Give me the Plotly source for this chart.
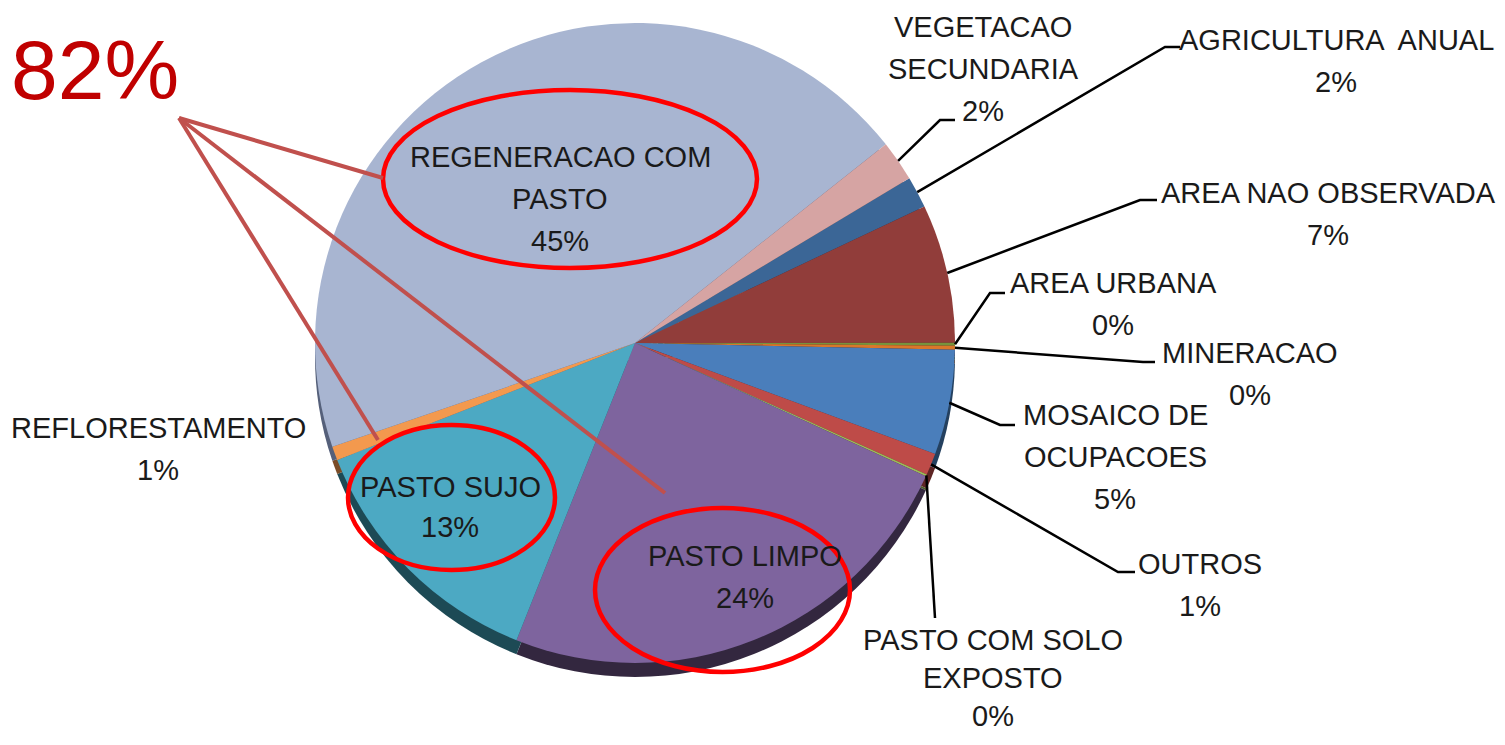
import math
import plotly.graph_objects as go

W, H = 1505, 745
OFF = 8  # default page body margin
FW, FH = W - 2 * OFF, H - 2 * OFF

# ---- data ----
categories = ["AGRICULTURA ANUAL", "AREA NAO OBSERVADA", "AREA URBANA", "MINERACAO",
              "MOSAICO DE OCUPACOES", "OUTROS", "PASTO COM SOLO EXPOSTO", "PASTO LIMPO",
              "PASTO SUJO", "REFLORESTAMENTO", "REGENERACAO COM PASTO", "VEGETACAO SECUNDARIA"]
values = [1.6, 7.0, 0.15, 0.2, 5.3, 1.1, 0.1, 24.2, 13.0, 0.7, 44.6, 2.05]
label_lines = {
    "AGRICULTURA ANUAL": ["AGRICULTURA  ANUAL"],
    "AREA NAO OBSERVADA": ["AREA NAO OBSERVADA"],
    "AREA URBANA": ["AREA URBANA"],
    "MINERACAO": ["MINERACAO"],
    "MOSAICO DE OCUPACOES": ["MOSAICO DE", "OCUPACOES"],
    "OUTROS": ["OUTROS"],
    "PASTO COM SOLO EXPOSTO": ["PASTO COM SOLO", "EXPOSTO"],
    "PASTO LIMPO": ["PASTO LIMPO"],
    "PASTO SUJO": ["PASTO SUJO"],
    "REFLORESTAMENTO": ["REFLORESTAMENTO"],
    "REGENERACAO COM PASTO": ["REGENERACAO COM", "PASTO"],
    "VEGETACAO SECUNDARIA": ["VEGETACAO", "SECUNDARIA"],
}
highlight_total = "82%"

colors = ["#3B6696", "#913D3A", "#77933C", "#D9772A", "#4A7EBB", "#BE4B48", "#9BBB59",
          "#7E649E", "#4CA9C3", "#F3994E", "#A8B5D1", "#D6A4A3"]
side_colors = ["#1E3450", "#4A1F1D", "#3C4A1E", "#6B3A14", "#24405F", "#5E2524", "#4E5E2C",
               "#33273F", "#1D4A55", "#7A4C27", "#55607A", "#6B5251"]


def fx(x):
    return (x - OFF) / FW


def fy(y):
    return 1 - (y - OFF) / FH


# ---- layout constants ----
CX, CY, R = 635, 343, 320
ROT = 59
DEPTH = 14
FONT = "Liberation Sans, Arial, sans-serif"
FS = 29

fig = go.Figure()
# 3D side (shadow) of the pie
fig.add_trace(go.Pie(labels=categories, values=values, sort=False, direction="clockwise",
                     rotation=ROT, textinfo="none", hoverinfo="skip", showlegend=False,
                     marker=dict(colors=side_colors, line=dict(width=0)),
                     domain=dict(x=[fx(CX - R), fx(CX + R)], y=[fy(CY + DEPTH + R), fy(CY + DEPTH - R)])))
# pie face
fig.add_trace(go.Pie(labels=categories, values=values, sort=False, direction="clockwise",
                     rotation=ROT, textinfo="none", showlegend=False,
                     marker=dict(colors=colors, line=dict(width=0)),
                     domain=dict(x=[fx(CX - R), fx(CX + R)], y=[fy(CY + R), fy(CY - R)])))

total = sum(values)
anchors = {}
cum = 0.0
for c, v in zip(categories, values):
    mid = math.radians(ROT + (cum + v / 2) * 360 / total)
    anchors[c] = (CX + R * math.sin(mid), CY - R * math.cos(mid))
    cum += v
pct = {c: f"{round(v / total * 100)}%" for c, v in zip(categories, values)}

# label placement: (center x, first line y, line spacing, elbow, end) in px
outside = {
    "VEGETACAO SECUNDARIA": (983, 27, 42, (940, 120), (955, 120)),
    "AGRICULTURA ANUAL": (1336, 40, 42, (1165, 47), (1180, 47)),
    "AREA NAO OBSERVADA": (1328, 193, 42, (1140, 200), (1157, 200)),
    "AREA URBANA": (1113, 283, 42, (990, 293), (1005, 293)),
    "MINERACAO": (1250, 353, 42, (1143, 362), (1155, 362)),
    "MOSAICO DE OCUPACOES": (1115, 415, 42, (1000, 425), (1015, 425)),
    "OUTROS": (1200, 564, 42, (1118, 572), (1135, 572)),
    "PASTO COM SOLO EXPOSTO": (993, 640, 38, None, (935, 618)),
    "REFLORESTAMENTO": (158, 428, 42, None, None),
}
inside = {
    "REGENERACAO COM PASTO": (560, 157, 42),
    "PASTO SUJO": (450, 487, 40),
    "PASTO LIMPO": (745, 556, 42),
}

annotations = []
shapes = []


def add_text(x, y, txt, size=FS, color="#1A1A1A"):
    annotations.append(dict(x=fx(x), y=fy(y), xref="paper", yref="paper", text=txt,
                            showarrow=False, xanchor="center", yanchor="middle",
                            font=dict(family=FONT, size=size, color=color)))


for c, (x, y0, dy, elbow, end) in outside.items():
    lines = label_lines[c] + [pct[c]]
    for i, t in enumerate(lines):
        add_text(x, y0 + i * dy, t)
    if end is not None:
        ax, ay = anchors[c]
        pts = [(ax, ay)]
        if elbow is not None:
            pts.append(elbow)
        pts.append(end)
        path = "M " + " L ".join(f"{fx(px)} {fy(py)}" for px, py in pts)
        shapes.append(dict(type="path", xref="paper", yref="paper", path=path,
                           line=dict(color="#000000", width=2.5)))

for c, (x, y0, dy) in inside.items():
    lines = label_lines[c] + [pct[c]]
    for i, t in enumerate(lines):
        add_text(x, y0 + i * dy, t)

# highlight ellipses
ellipses = [(383, 90, 757, 268), (348, 425, 555, 570), (595, 508, 850, 672)]
for x0, y0, x1, y1 in ellipses:
    shapes.append(dict(type="circle", xref="paper", yref="paper",
                       x0=fx(x0), x1=fx(x1), y0=fy(y1), y1=fy(y0),
                       line=dict(color="#FF0000", width=4.5)))

# connectors from the total
src = (179, 118)
targets = [(383, 178), (378, 440), (665, 493)]
for tx, ty in targets:
    shapes.append(dict(type="line", xref="paper", yref="paper",
                       x0=fx(src[0]), y0=fy(src[1]), x1=fx(tx), y1=fy(ty),
                       line=dict(color="#C0504D", width=4)))

add_text(95, 70, highlight_total, size=84, color="#C00000")

fig.update_layout(width=FW, height=FH, margin=dict(l=0, r=0, t=0, b=0),
                  paper_bgcolor="white", plot_bgcolor="white",
                  annotations=annotations, shapes=shapes, showlegend=False)

fig.write_html("out.html")
